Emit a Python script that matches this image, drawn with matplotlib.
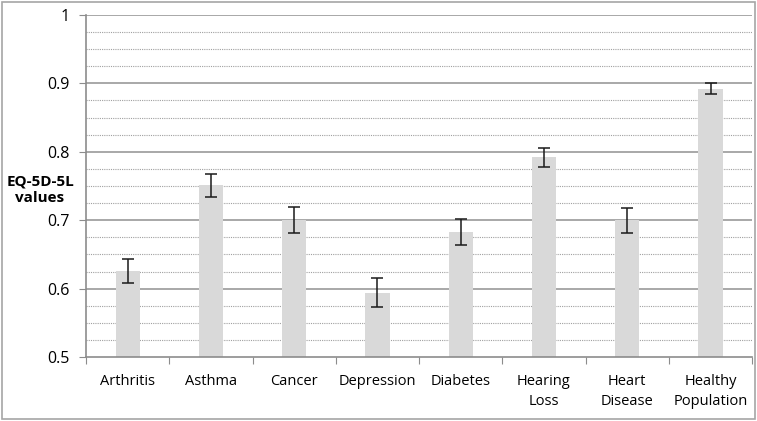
import numpy as np
import matplotlib.pyplot as plt
from matplotlib.patches import Rectangle

categories = ["Arthritis", "Asthma", "Cancer", "Depression", "Diabetes",
              "Hearing\nLoss", "Heart\nDisease", "Healthy\nPopulation"]
values = [0.626, 0.751, 0.700, 0.594, 0.683, 0.792, 0.700, 0.892]
errors = [0.018, 0.017, 0.019, 0.021, 0.019, 0.014, 0.018, 0.008]
y_ticks = [0.5, 0.6, 0.7, 0.8, 0.9, 1.0]
y_labels = ["0.5", "0.6", "0.7", "0.8", "0.9", "1"]

plt.rcParams['font.family'] = ['Open Sans', 'DejaVu Sans']

fig = plt.figure(figsize=(7.57, 4.21), dpi=100)
ax = fig.add_axes([0.1136, 0.152, 0.88, 0.8124])

# outer chart border
fig.patches.append(Rectangle((0.002, 0.005), 0.995, 0.99, transform=fig.transFigure,
                             fill=False, edgecolor="#a6a6a6", linewidth=1.2))

x = np.arange(len(categories))
ax.set_ylim(0.5, 1.0)
ax.set_xlim(-0.5, len(categories) - 0.5)

# gridlines: dotted minor every 0.025, solid major every 0.1
for v in np.arange(0.525, 1.0, 0.025):
    if abs(v * 10 - round(v * 10)) > 1e-6:
        ax.axhline(v, color="#a0a0a0", linestyle=(0, (1, 1)), linewidth=0.8, zorder=0)
for v in y_ticks[1:]:
    ax.axhline(v, color="#9a9a9a", linewidth=1.2, zorder=0)

ax.bar(x, values, width=0.29, color="#d9d9d9", zorder=2)
ax.errorbar(x, values, yerr=errors, fmt="none", ecolor="#1a1a1a",
            elinewidth=1.1, capsize=4, capthick=1.1, zorder=3)

ax.set_yticks(y_ticks)
ax.set_yticklabels(y_labels, fontsize=11.5)
ax.set_xticks(np.arange(len(categories) + 1) - 0.5)
ax.set_xticklabels([])
ax.set_xticks(x, minor=True)
ax.set_xticklabels(categories, minor=True, fontsize=10.5, linespacing=1.45)
ax.tick_params(axis="x", which="minor", length=0, pad=12)
ax.tick_params(axis="x", which="major", length=5, color="#8c8c8c", direction="out")
ax.tick_params(axis="y", length=5, color="#8c8c8c", pad=7)

for s in ["top", "right"]:
    ax.spines[s].set_visible(False)
for s in ["left", "bottom"]:
    ax.spines[s].set_color("#8c8c8c")
    ax.spines[s].set_linewidth(1.2)

fig.text(40 / 757, 1 - 190 / 421, "EQ-5D-5L\nvalues", ha="center", va="center",
         fontsize=11, fontweight="bold", linespacing=1.25)

fig.savefig("out.png", dpi=100)
